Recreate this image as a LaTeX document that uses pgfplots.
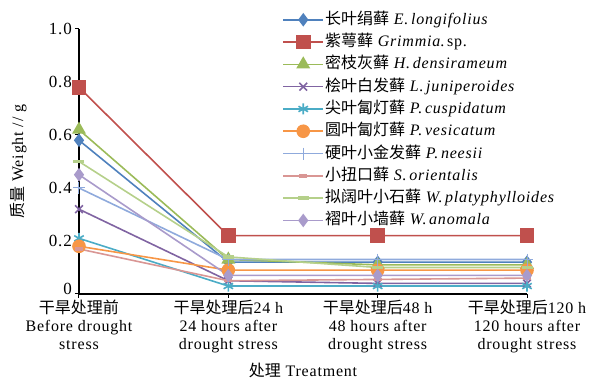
\documentclass[border=0pt]{standalone}
\usepackage{pgfplots}
\pgfplotsset{compat=1.18}
\usepackage{fontspec}
\setmainfont[LetterSpace=5]{Liberation Serif}
\newfontfamily\cjk{Noto Sans CJK SC}
\newcommand\zh[1]{{\cjk #1}}
\newcommand\lab{\fontsize{16}{18}\selectfont}
\definecolor{c1}{HTML}{4F81BD}
\definecolor{c2}{HTML}{C0504D}
\definecolor{c3}{HTML}{9BBB59}
\definecolor{c4}{HTML}{8064A2}
\definecolor{c5}{HTML}{4BACC6}
\definecolor{c6}{HTML}{F79646}
\definecolor{c7}{HTML}{8FAADC}
\definecolor{c8}{HTML}{D99694}
\definecolor{c9}{HTML}{B5D08A}
\definecolor{c10}{HTML}{A99BCB}
\begin{document}
\begin{tikzpicture}
\useasboundingbox (-79pt,-88pt) rectangle (512pt,294pt);
\begin{axis}[
  at={(0,0)}, anchor=south west,
  scale only axis, width=448pt, height=265pt,
  xmin=0, xmax=3, ymin=0, ymax=1,
  axis lines=left,
  axis line style={-, line width=1.2pt, black},
  clip=false,
  xtick={0,1,2,3},
  xticklabels={
    {\zh{干旱处理前}\\Before drought\\stress},
    {\zh{干旱处理后}24 h\\24 hours after\\drought stress},
    {\zh{干旱处理后}48 h\\48 hours after\\drought stress},
    {\zh{干旱处理后}120 h\\120 hours after\\drought stress}},
  xticklabel style={align=center, font=\lab, inner sep=1pt, yshift=-1pt},
  ytick={0.2,0.4,0.6,0.8,1},
  yticklabels={0.2,0.4,0.6,0.8,1.0},
  extra y ticks={0},
  extra y tick labels={0},
  extra y tick style={yticklabel style={yshift=4.5pt}},
  yticklabel style={font=\fontsize{17}{18}\selectfont, anchor=base east, yshift=-5.5pt, inner sep=1pt, xshift=-2pt},
  y tick style={black, line width=1pt},
  x tick style={black, line width=1pt},
  tick align=outside,
  major tick length=4pt,
  xlabel={\zh{处理} Treatment},
  xlabel style={at={(axis description cs:0.5,0)}, anchor=center, yshift=-76pt, font=\lab},
  ylabel={\zh{质量} Weight // g},
  ylabel style={at={(axis description cs:-0.136,0.5)}, anchor=center, font=\lab},
  legend style={draw=none, fill=none, at={(rel axis cs:0.447,1.079)}, anchor=north west,
    font=\lab, row sep=3.3pt,
    nodes={inner sep=1pt, text height=13pt, text depth=4pt}},
  legend cell align=left,
  legend image code/.code={\draw[mark repeat=2,mark phase=2] plot coordinates {(0pt,0pt) (20pt,0pt) (40pt,0pt)};},
  every axis plot/.append style={line width=1.6pt},
]
\addplot[c1, mark=diamond*, mark size=5.5pt, mark options={solid}] coordinates {(0,0.58) (1,0.12) (2,0.12) (3,0.12)};
\addlegendentry{\zh{长叶绢藓} \textit{E.\,longifolius}}
\addplot[c2, mark=square*, mark size=6.5pt] coordinates {(0,0.78) (1,0.22) (2,0.22) (3,0.22)};
\addlegendentry{\zh{紫萼藓} \textit{Grimmia}.\,sp.}
\addplot[c3, mark=triangle*, mark size=6.5pt] coordinates {(0,0.62) (1,0.13) (2,0.11) (3,0.11)};
\addlegendentry{\zh{密枝灰藓} \textit{H.\,densirameum}}
\addplot[c4, mark=x, mark size=5.5pt] coordinates {(0,0.32) (1,0.05) (2,0.04) (3,0.04)};
\addlegendentry{\zh{桧叶白发藓} \textit{L.\,juniperoides}}
\addplot[c5, mark=asterisk, mark size=5.5pt] coordinates {(0,0.21) (1,0.03) (2,0.03) (3,0.03)};
\addlegendentry{\zh{尖叶匐灯藓} \textit{P.\,cuspidatum}}
\addplot[c6, mark=*, mark size=6pt] coordinates {(0,0.18) (1,0.09) (2,0.09) (3,0.09)};
\addlegendentry{\zh{圆叶匐灯藓} \textit{P.\,vesicatum}}
\addplot[c7, mark=+, mark size=6pt, mark options={line width=1pt}] coordinates {(0,0.40) (1,0.13) (2,0.13) (3,0.13)};
\addlegendentry{\zh{硬叶小金发藓} \textit{P.\,neesii}}
\addplot[c8, mark=-, mark size=4pt, mark options={line width=3.5pt}] coordinates {(0,0.17) (1,0.05) (2,0.055) (3,0.06)};
\addlegendentry{\zh{小扭口藓} \textit{S.\,orientalis}}
\addplot[c9, mark=-, mark size=5.5pt, mark options={line width=3.5pt}] coordinates {(0,0.50) (1,0.14) (2,0.10) (3,0.10)};
\addlegendentry{\zh{拟阔叶小石藓} \textit{W.\,platyphylloides}}
\addplot[c10, mark=diamond*, mark size=5.5pt] coordinates {(0,0.45) (1,0.07) (2,0.07) (3,0.07)};
\addlegendentry{\zh{褶叶小墙藓} \textit{W.\,anomala}}
\end{axis}
\end{tikzpicture}
\end{document}
